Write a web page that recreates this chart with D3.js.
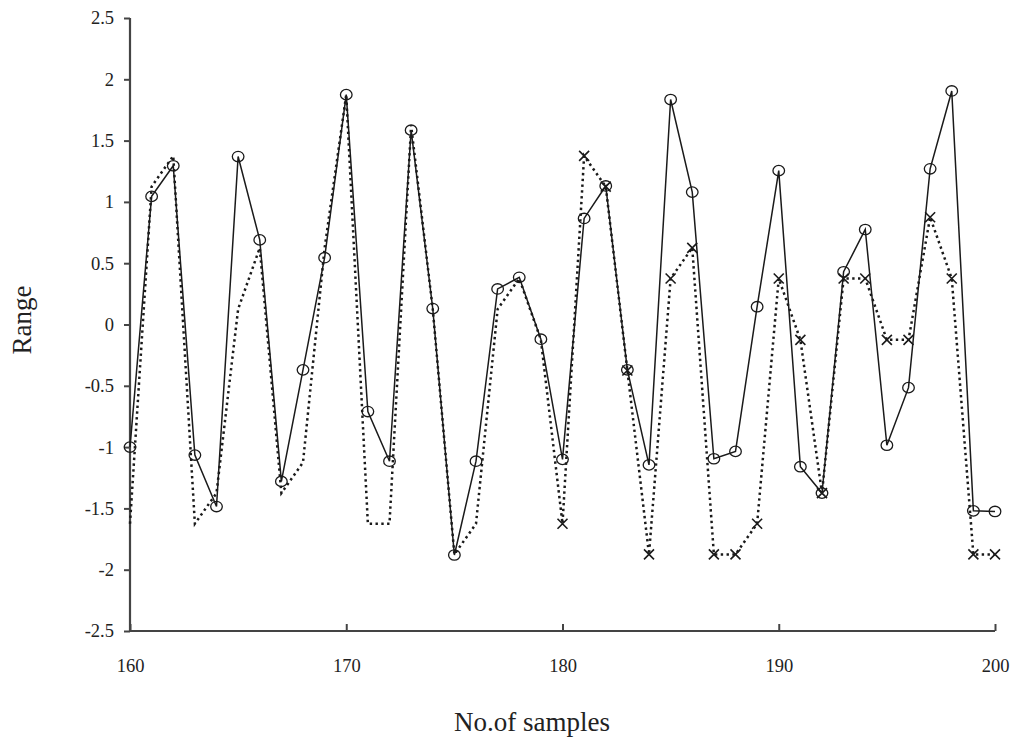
<!DOCTYPE html>
<html>
<head>
<meta charset="utf-8">
<script src="https://cdn.jsdelivr.net/npm/d3@7"></script>
<style>
  html, body { margin: 0; padding: 0; background: #fff; }
  svg { display: block; }
  text { font-family: "Liberation Serif", "Times New Roman", serif; fill: #222; }
</style>
</head>
<body>
<svg id="chart" width="1016" height="748"></svg>
<script>
// Sample numbers on the horizontal axis
const samples = d3.range(160, 201);

// Measured range (solid line, circle markers)
const actual = [
  -1.0, 1.045, 1.295, -1.065, -1.485, 1.37, 0.69, -1.28, -0.37, 0.545,
  1.875, -0.71, -1.115, 1.585, 0.13, -1.88, -1.115, 0.29, 0.385, -0.12,
  -1.1, 0.865, 1.13, -0.37, -1.145, 1.835, 1.08, -1.095, -1.035, 0.145,
  1.255, -1.16, -1.375, 0.43, 0.775, -0.985, -0.515, 1.27, 1.905, -1.52,
  -1.525
];

// Predicted range (dotted line, cross markers from sample 180 on)
const predicted = [
  -1.625, 1.125, 1.375, -1.625, -1.375, 0.125, 0.625, -1.375, -1.125, 0.625,
  1.875, -1.625, -1.625, 1.625, 0.125, -1.875, -1.625, 0.125, 0.375, -0.125,
  -1.625, 1.375, 1.125, -0.375, -1.875, 0.375, 0.625, -1.875, -1.875, -1.625,
  0.375, -0.125, -1.375, 0.375, 0.375, -0.125, -0.125, 0.875, 0.375, -1.875,
  -1.875
];
const crossFrom = 180;

const xTicks = [160, 170, 180, 190, 200];
const yTicks = [-2.5, -2, -1.5, -1, -0.5, 0, 0.5, 1, 1.5, 2, 2.5];

const svg = d3.select("#chart");
const plotLeft = 130, plotRight = 995, plotTop = 18, plotBottom = 631;

const x = d3.scaleLinear().domain([160, 200]).range([plotLeft, plotRight]);
const y = d3.scaleLinear().domain([-2.5, 2.5]).range([plotBottom, plotTop]);

// Plain hyphen for negative numbers
const fmt = d => String(d);

// Y axis: ticks on the outside
const yAxis = svg.append("g")
  .attr("transform", `translate(${plotLeft},0)`)
  .call(d3.axisLeft(y).tickValues(yTicks).tickSize(6).tickPadding(10).tickFormat(fmt));
// X axis: ticks pointing up into the plot
const xAxis = svg.append("g")
  .attr("transform", `translate(0,${plotBottom})`)
  .call(d3.axisBottom(x).tickValues(xTicks).tickSize(-7).tickPadding(28).tickFormat(fmt));

[yAxis, xAxis].forEach(g => {
  g.select(".domain").attr("stroke", "#444").attr("stroke-width", 2.2);
  g.selectAll(".tick line").attr("stroke", "#444").attr("stroke-width", 2);
  g.selectAll(".tick text")
    .attr("font-family", "'Liberation Serif', 'Times New Roman', serif")
    .attr("font-size", 18.5).attr("fill", "#333");
});
xAxis.select(".domain").attr("d", `M${plotLeft},0H${plotRight}`);
yAxis.select(".domain").attr("d", `M0,${plotTop}V${plotBottom}`);

const pts = arr => samples.map((s, i) => ({ s, v: arr[i] }));
const predPts = pts(predicted);
const actPts = pts(actual);

// Predicted series (dotted)
svg.append("path")
  .datum(predPts)
  .attr("fill", "none")
  .attr("stroke", "#1a1a1a")
  .attr("stroke-width", 2.5)
  .attr("stroke-dasharray", "2.4,3.4")
  .attr("d", d3.line().x(d => x(d.s)).y(d => y(d.v)));

// Measured series (solid)
svg.append("path")
  .datum(actPts)
  .attr("fill", "none")
  .attr("stroke", "#1a1a1a")
  .attr("stroke-width", 1.5)
  .attr("d", d3.line().x(d => x(d.s)).y(d => y(d.v)));

// Circle markers
svg.append("g").selectAll("ellipse")
  .data(actPts)
  .join("ellipse")
  .attr("cx", d => x(d.s))
  .attr("cy", d => y(d.v))
  .attr("rx", 5.8)
  .attr("ry", 5.2)
  .attr("fill", "none")
  .attr("stroke", "#1a1a1a")
  .attr("stroke-width", 1.3);

// Cross markers
const cs = 5;
svg.append("g").selectAll("path")
  .data(predPts.filter(d => d.s >= crossFrom))
  .join("path")
  .attr("transform", d => `translate(${x(d.s)},${y(d.v)})`)
  .attr("d", `M${-cs},${-cs}L${cs},${cs}M${-cs},${cs}L${cs},${-cs}`)
  .attr("stroke", "#1a1a1a")
  .attr("stroke-width", 1.6)
  .attr("fill", "none");

// Axis titles
svg.append("text")
  .attr("x", 532).attr("y", 731)
  .attr("text-anchor", "middle")
  .attr("font-size", 27)
  .text("No.of samples");

svg.append("text")
  .attr("transform", "translate(31,320) rotate(-90)")
  .attr("text-anchor", "middle")
  .attr("font-size", 27)
  .text("Range");
</script>
</body>
</html>
